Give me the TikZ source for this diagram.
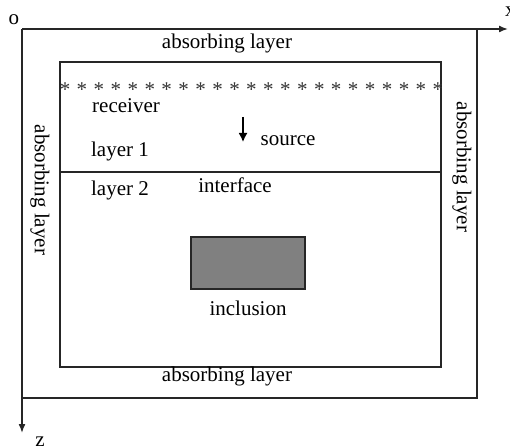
\documentclass[tikz,border=0pt]{standalone}
\usepackage{fontspec}
\setmainfont{Liberation Serif}
\usetikzlibrary{arrows.meta}
\begin{document}
\begin{tikzpicture}[x=1pt,y=-1pt,
  lbl/.style={font=\fontsize{21}{25}\selectfont, inner sep=0pt, anchor=base},
  rlbl/.style={font=\fontsize{21}{25}\selectfont, inner sep=0pt, rotate=-90, anchor=center},
  ln/.style={line width=1.5pt, draw=black!85},
  tip/.style={-{Latex[length=9pt,width=7pt]}}]
\useasboundingbox (0,0) rectangle (510,446);
% axes and outer box
\coordinate (O) at (22,29);
\coordinate (X) at (508,29);
\coordinate (Z) at (22,433);
\coordinate (OR) at (477,29);
\coordinate (OBR) at (477,398);
\coordinate (OBL) at (22,398);
\draw[ln, tip] (O) -- (X);
\draw[ln, tip] (O) -- (Z);
\draw[ln] (OR) -- (OBR) -- (OBL);
\node[lbl] (olbl) at (14,25) {o};
\node[lbl, anchor=base west] (xlbl) at (505,17) {x};
\node[lbl] (zlbl) at (40,446) {z};
% inner box
\node[ln, draw, minimum width=381pt, minimum height=305pt, inner sep=0pt] (inner) at (250.5,214.5) {};
\coordinate (il) at (60,172);
\coordinate (ir) at (441,172);
\draw[ln] (il) -- (ir);
% stars
\foreach \i in {0,...,22} \node[lbl, text=black!80] (st\i) at ({65+\i*16.95},97) {*};
% labels
\node[lbl] (abt) at (227,49) {absorbing layer};
\node[lbl] (abb) at (227,381) {absorbing layer};
\node[rlbl] (abl) at (40,190) {absorbing layer};
\node[rlbl] (abr) at (462,167) {absorbing layer};
\node[lbl] (rec) at (126,113) {receiver};
\node[lbl] (l1) at (120,157) {layer 1};
\node[lbl] (l2) at (120,195) {layer 2};
\node[lbl] (intf) at (235,193) {interface};
\node[lbl] (src) at (288,146) {source};
\coordinate (s1) at (243,117);
\coordinate (s2) at (243,142);
\draw[line width=1.5pt, -{Latex[length=9pt,width=9pt]}] (s1) -- (s2);
% inclusion
\node[ln, draw, fill=black!50, minimum width=114pt, minimum height=52pt, inner sep=0pt] (incl) at (248,263) {};
\node[lbl] (incllbl) at (248,315) {inclusion};
\end{tikzpicture}
\end{document}
